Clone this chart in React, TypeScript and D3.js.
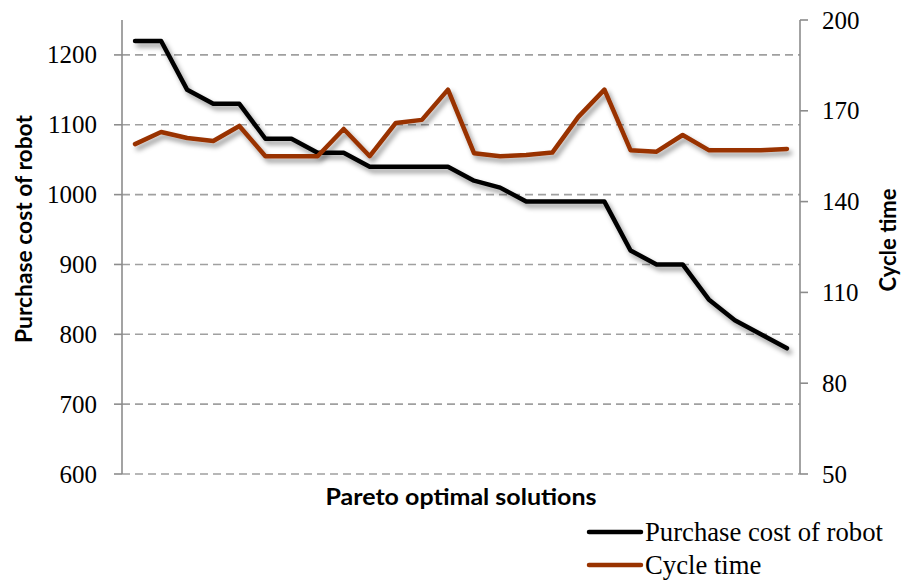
import React from "react";
import * as d3 from "d3";

// Pareto optimal solutions: purchase cost (left axis) and cycle time (right axis)
const solutions: number[] = d3.range(1, 27);
const purchaseCost: number[] = [
  1220, 1220, 1150, 1130, 1130, 1080, 1080, 1060, 1060, 1040, 1040, 1040, 1040,
  1020, 1010, 990, 990, 990, 990, 920, 900, 900, 850, 820, 800, 780,
];
const cycleTime: number[] = [
  159, 163, 161, 160, 165, 155, 155, 155, 164, 155, 166, 167, 177,
  156, 155, 155.4, 156.2, 168, 177, 157, 156.5, 162, 157, 157, 157, 157.4,
];
const costTicks: number[] = [600, 700, 800, 900, 1000, 1100, 1200];
const timeTicks: number[] = [50, 80, 110, 140, 170, 200];

const W = 903;
const H = 582;
const M = { left: 122, right: 800, top: 20, bottom: 474 };

const COST_COLOR = "#000000";
const TIME_COLOR = "#993300";
const GRID = "#a0a0a0";
const AXIS = "#8c8c8c";
const SERIF = "'Liberation Serif', 'Times New Roman', serif";
const SANS = "Lato, 'Liberation Sans', Arial, sans-serif";

export default function App() {
  const x = d3
    .scaleBand<number>()
    .domain(solutions)
    .range([M.left, M.right]);
  const xc = (i: number) => (x(solutions[i]) as number) + x.bandwidth() / 2;

  const yCost = d3.scaleLinear().domain([600, 1250]).range([M.bottom, M.top]);
  const yTime = d3.scaleLinear().domain([50, 200]).range([M.bottom, M.top]);

  const costLine = d3
    .line<number>()
    .x((_, i) => xc(i))
    .y((d) => yCost(d));
  const timeLine = d3
    .line<number>()
    .x((_, i) => xc(i))
    .y((d) => yTime(d));

  return (
    <svg
      width={W}
      height={H}
      viewBox={`0 0 ${W} ${H}`}
      style={{ position: "absolute", left: 0, top: 0, display: "block", background: "#fff" }}
    >
      <defs>
        <filter id="lineShadow" x="-10%" y="-10%" width="120%" height="130%">
          <feDropShadow dx="3" dy="4" stdDeviation="2.8" floodColor="#000" floodOpacity="0.4" />
        </filter>
      </defs>
      <rect x={0} y={0} width={W} height={H} fill="#fff" />

      {/* dashed gridlines at the cost ticks */}
      {costTicks.map((t) => (
        <line
          key={`g${t}`}
          x1={M.left}
          x2={M.right}
          y1={yCost(t)}
          y2={yCost(t)}
          stroke={GRID}
          strokeWidth={1.6}
          strokeDasharray="8,5"
        />
      ))}

      {/* left axis */}
      <line x1={M.left} x2={M.left} y1={M.top} y2={M.bottom} stroke={AXIS} strokeWidth={1.6} />
      {costTicks.map((t) => (
        <g key={`lc${t}`}>
          <line x1={M.left - 8} x2={M.left} y1={yCost(t)} y2={yCost(t)} stroke={AXIS} strokeWidth={1.6} />
          <text
            x={M.left - 25}
            y={yCost(t)}
            textAnchor="end"
            dominantBaseline="central"
            fontFamily={SERIF}
            fontSize={25}
            fill="#000"
          >
            {t}
          </text>
        </g>
      ))}

      {/* right axis */}
      <line x1={M.right} x2={M.right} y1={M.top} y2={M.bottom} stroke={AXIS} strokeWidth={1.6} />
      {timeTicks.map((t) => (
        <g key={`rt${t}`}>
          <line x1={M.right} x2={M.right + 8} y1={yTime(t)} y2={yTime(t)} stroke={AXIS} strokeWidth={1.6} />
          <text
            x={M.right + 22}
            y={yTime(t)}
            textAnchor="start"
            dominantBaseline="central"
            fontFamily={SERIF}
            fontSize={25}
            fill="#000"
          >
            {t}
          </text>
        </g>
      ))}

      {/* series */}
      <path
        d={costLine(purchaseCost) ?? ""}
        fill="none"
        stroke={COST_COLOR}
        strokeWidth={4.5}
        strokeLinejoin="round"
        strokeLinecap="round"
        filter="url(#lineShadow)"
      />
      <path
        d={timeLine(cycleTime) ?? ""}
        fill="none"
        stroke={TIME_COLOR}
        strokeWidth={4.5}
        strokeLinejoin="round"
        strokeLinecap="round"
        filter="url(#lineShadow)"
      />

      {/* axis titles */}
      <text
        x={(M.left + M.right) / 2}
        y={496}
        textAnchor="middle"
        dominantBaseline="central"
        fontFamily={SANS}
        fontWeight="bold"
        fontSize={22}
        textLength={271}
        lengthAdjust="spacingAndGlyphs"
        fill="#000"
      >
        Pareto optimal solutions
      </text>
      <text
        transform={`translate(23, 229) rotate(-90)`}
        textAnchor="middle"
        dominantBaseline="central"
        fontFamily={SANS}
        fontWeight="bold"
        fontSize={22}
        textLength={228}
        lengthAdjust="spacingAndGlyphs"
        fill="#000"
      >
        Purchase cost of robot
      </text>
      <text
        transform={`translate(887, 240) rotate(-90)`}
        textAnchor="middle"
        dominantBaseline="central"
        fontFamily={SANS}
        fontWeight="bold"
        fontSize={22}
        textLength={103}
        lengthAdjust="spacingAndGlyphs"
        fill="#000"
      >
        Cycle time
      </text>

      {/* legend */}
      {[
        { label: "Purchase cost of robot", color: COST_COLOR, y: 532 },
        { label: "Cycle time", color: TIME_COLOR, y: 565 },
      ].map((d) => (
        <g key={d.label}>
          <line
            x1={589}
            x2={641}
            y1={d.y}
            y2={d.y}
            stroke={d.color}
            strokeWidth={4.5}
            strokeLinecap="round"
          />
          <text
            x={645}
            y={d.y}
            dominantBaseline="central"
            fontFamily={SERIF}
            fontSize={26.7}
            fill="#000"
          >
            {d.label}
          </text>
        </g>
      ))}
    </svg>
  );
}
